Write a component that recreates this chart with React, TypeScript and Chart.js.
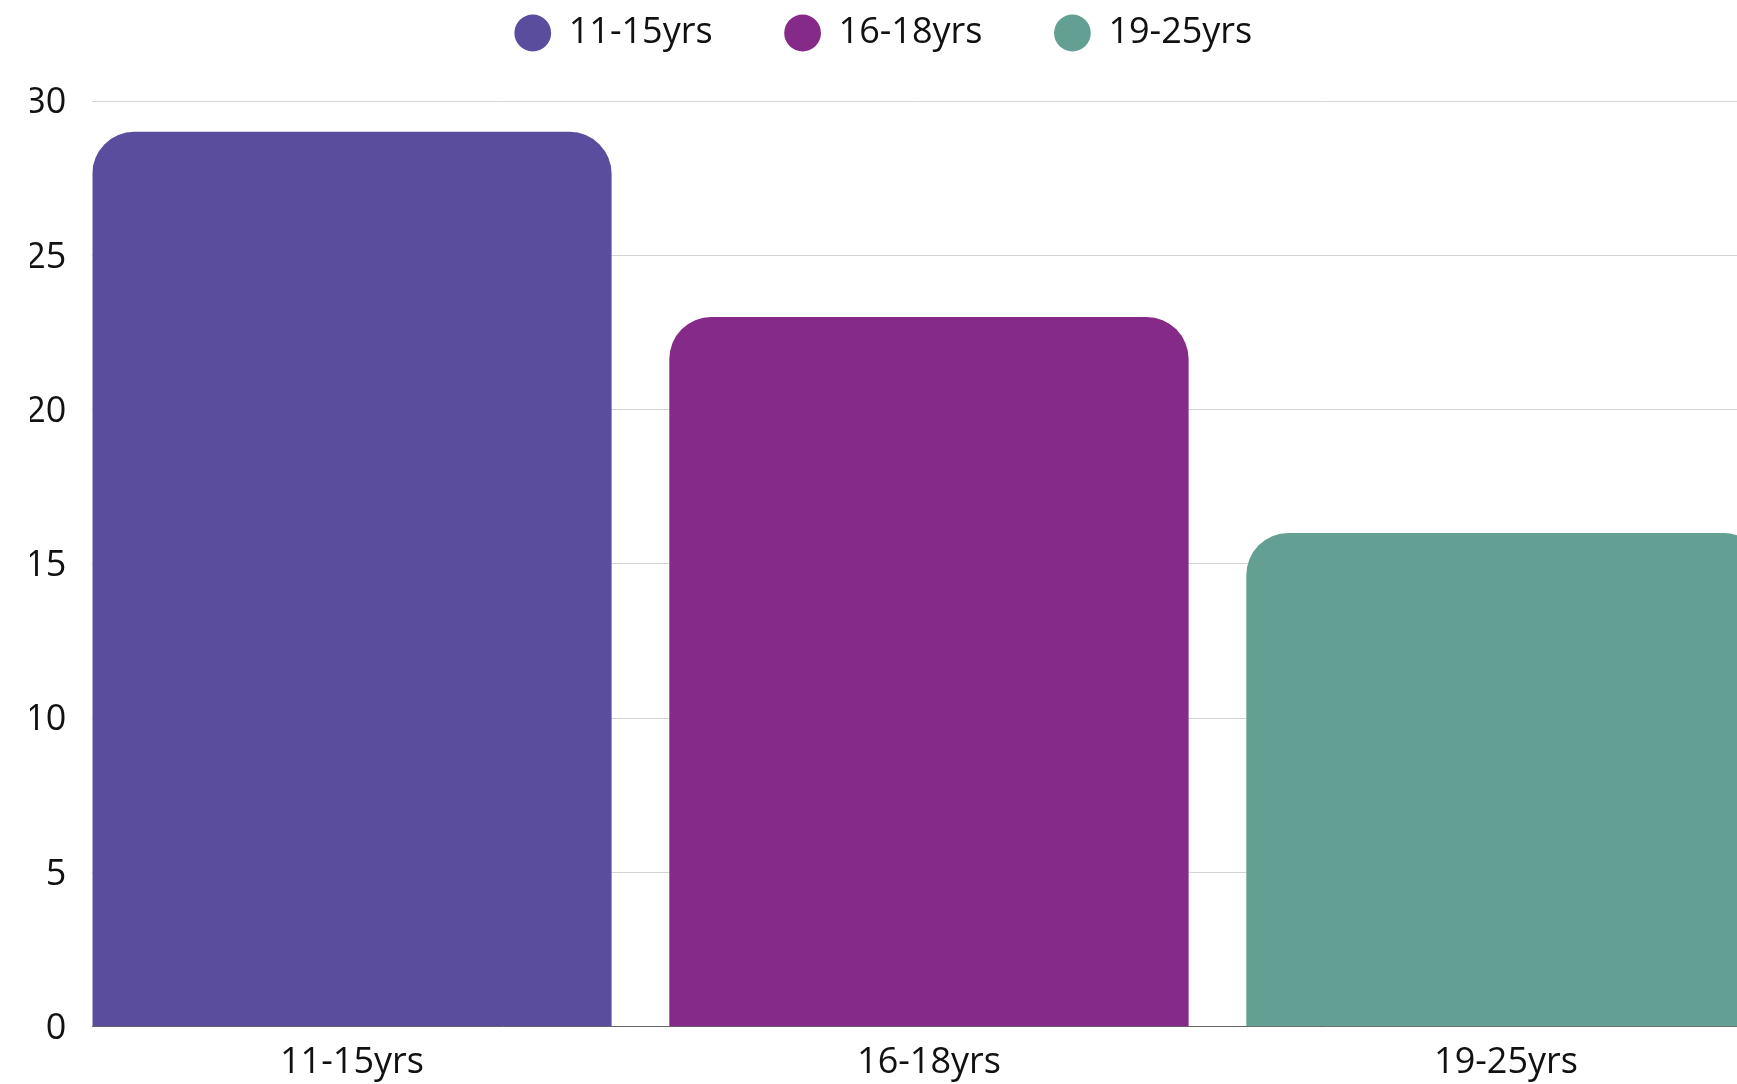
import React, { useEffect, useRef } from 'react';
import { Chart, registerables } from 'chart.js';

Chart.register(...registerables);

const CATEGORIES: string[] = ['11-15yrs', '16-18yrs', '19-25yrs'];
const VALUES: number[] = [29, 23, 16];
const COLORS: string[] = ['#5a4d9d', '#862a89', '#649f94'];
const Y_MIN = 0;
const Y_MAX = 30;
const Y_STEP = 5;

export default function App() {
  const ref = useRef<HTMLCanvasElement>(null);

  useEffect(() => {
    if (!ref.current) return;
    const font = { family: "'Open Sans', 'Noto Sans', sans-serif", size: 36 };
    const textColor = '#111111';
    const chart = new Chart(ref.current, {
      type: 'bar',
      data: {
        datasets: CATEGORIES.map((label, i) => ({
          label,
          data: [{ x: i, y: VALUES[i] }],
          backgroundColor: COLORS[i],
          borderWidth: 0,
          borderRadius: { topLeft: 42, topRight: 42, bottomLeft: 0, bottomRight: 0 },
          borderSkipped: 'start',
          grouped: false,
          barPercentage: 0.9,
          categoryPercentage: 1,
        })),
      },
      options: {
        responsive: true,
        maintainAspectRatio: false,
        animation: false,
        layout: { padding: { top: -57, left: 30, right: 0, bottom: -14 } },
        plugins: {
          legend: {
            position: 'top',
            labels: {
              usePointStyle: true,
              pointStyle: 'circle',
              boxHeight: 26,
              padding: 72,
              color: textColor,
              font,
            },
          },
          subtitle: {
            display: true,
            text: '',
            weight: 500,
            padding: 0,
            font: { size: 40, lineHeight: 1 },
          },
          tooltip: { enabled: false },
        },
        scales: {
          x: {
            type: 'linear',
            offset: false,
            min: -0.45,
            max: 2.4004,
            grid: { display: false, drawTicks: false },
            border: { display: true, color: '#666666', width: 1 },
            ticks: {
              color: textColor,
              font,
              padding: 14,
              maxRotation: 0,
              autoSkip: false,
              callback: (v: any) => CATEGORIES[v as number] ?? '',
            },
            afterBuildTicks: (s: any) => {
              s.ticks = CATEGORIES.map((_, i) => ({ value: i }));
            },
          },
          y: {
            min: Y_MIN,
            max: Y_MAX,
            grid: { color: '#d4d4d4', drawTicks: false, lineWidth: 1 },
            border: { display: false },
            ticks: {
              stepSize: Y_STEP,
              color: textColor,
              font,
              padding: 26,
              labelOffset: 2,
            },
            afterFit: (s: any) => {
              s.width = 62.3;
            },
          },
        },
      },
    } as any);
    return () => chart.destroy();
  }, []);

  return (
    <div style={{ position: 'fixed', left: 0, top: 0, width: 1737, height: 1084, background: '#fff' }}>
      <canvas ref={ref} />
    </div>
  );
}
